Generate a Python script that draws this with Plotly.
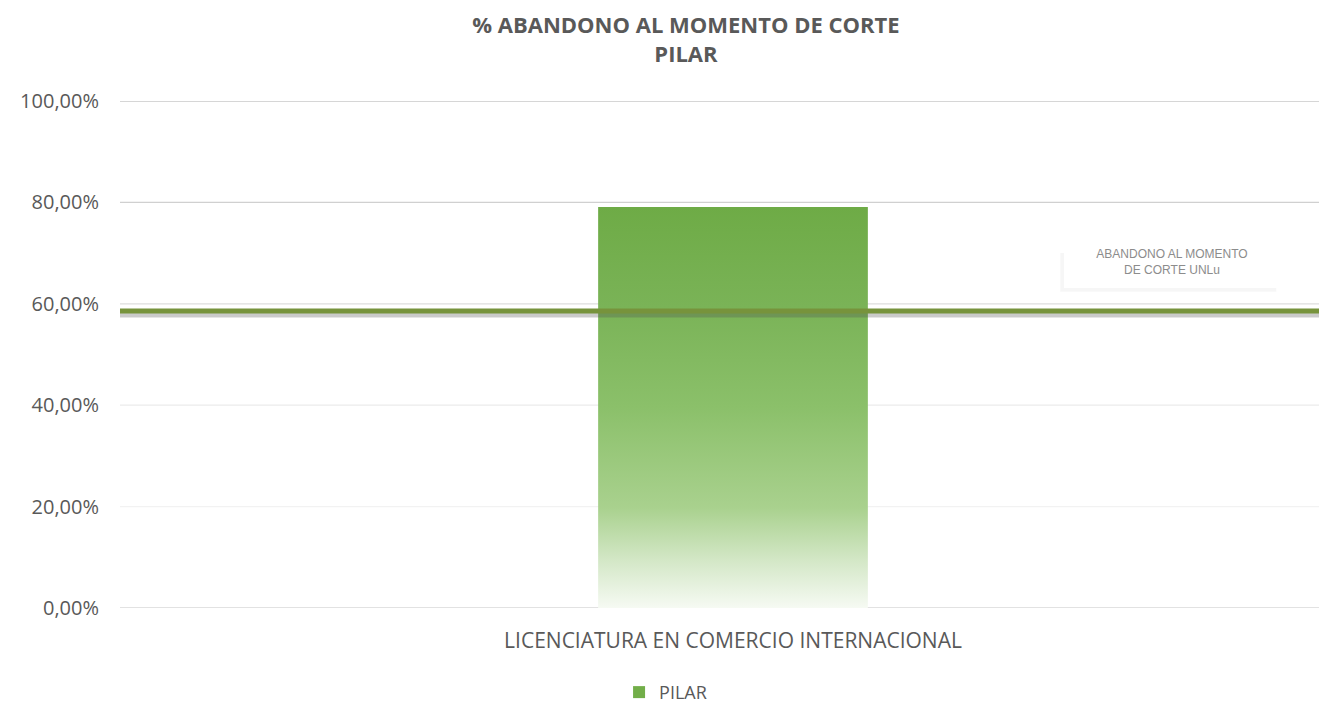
import plotly.graph_objects as go

# datos
categorias = ['LICENCIATURA EN COMERCIO INTERNACIONAL']
abandono_pilar = [0.791]
abandono_unlu = 0.586
ticks_y = [0, 0.2, 0.4, 0.6, 0.8, 1.0]
ticks_y_txt = ['0,00%', '20,00%', '40,00%', '60,00%', '80,00%', '100,00%']
grid_colores = ['#d9d9d9', '#f2f2f2', '#ebebeb', '#dedede', '#d0d0d0', '#c8c8c8']

ancho_barra = 0.22
x_rango = [-0.5, 0.4845]   # el area del grafico sigue mas alla del borde derecho
gris = '#595959'

fig = go.Figure()

# barra (leyenda), luego el degradado encima
fig.add_trace(go.Bar(
    x=list(range(len(categorias))), y=abandono_pilar, width=ancho_barra * 0.97,
    marker=dict(color='#72ae49', line=dict(width=0)),
    name='PILAR', hovertemplate='%{y:.2%}<extra>PILAR</extra>',
))

for i, v in enumerate(abandono_pilar):
    x0, x1 = i - ancho_barra / 2, i + ancho_barra / 2
    fig.add_trace(go.Scatter(
        x=[x0, x1, x1, x0, x0],
        y=[0, 0, v, v, 0],
        mode='lines',
        line=dict(width=0, color='#70ad47'),
        fill='toself',
        fillgradient=dict(
            type='vertical',
            start=0,
            stop=v,
            colorscale=[[0, '#f6faf3'], [0.12, '#d3e7c6'], [0.25, '#a9d18e'],
                        [0.5, '#8bc06a'], [0.75, '#7ab357'], [1, '#6eab46']],
        ),
        showlegend=False,
        hoverinfo='skip',
    ))

# sombra de la linea UNLu
fig.add_trace(go.Scatter(
    x=x_rango, y=[abandono_unlu - 0.007] * 2,
    mode='lines', line=dict(color='rgba(80,80,80,0.3)', width=6),
    showlegend=False, hoverinfo='skip'))
fig.add_trace(go.Scatter(
    x=x_rango, y=[abandono_unlu] * 2,
    mode='lines', line=dict(color='#77933c', width=5),
    name='ABANDONO AL MOMENTO DE CORTE UNLu', showlegend=False))

# lineas de grilla con tonos distintos
for t, c in zip(ticks_y, grid_colores):
    fig.add_shape(type='line', xref='paper', x0=0, x1=1, yref='y', y0=t, y1=t,
                  line=dict(color=c, width=1.3), layer='below')

# sombra suave de la etiqueta
fig.add_shape(type='rect', xref='paper', yref='paper',
              x0=0.779, x1=0.958, y0=0.624, y1=0.700,
              fillcolor='rgba(0,0,0,0.035)', line=dict(width=0), layer='above')

fig.add_annotation(
    x=0.8716, xref='paper', y=0.683, yref='y',
    xanchor='center', yanchor='middle',
    text='ABANDONO AL MOMENTO<br>DE CORTE UNLu',
    showarrow=False,
    font=dict(family='Liberation Sans, Arial', size=12, color='#8c8c8c'),
    bgcolor='white', borderwidth=0,
    width=214, height=50,
)

fig.update_layout(
    width=1319, height=698,
    paper_bgcolor='white', plot_bgcolor='white',
    margin=dict(l=112, r=0, t=93, b=98, autoexpand=False),
    title=dict(
        text='<b>% ABANDONO AL MOMENTO DE CORTE<br>PILAR</b>',
        x=0.514, xanchor='center', y=0.964, yanchor='top',
        font=dict(family='Open Sans', size=22, color=gris),
    ),
    xaxis=dict(
        range=x_rango,
        tickvals=list(range(len(categorias))), ticktext=categorias,
        showgrid=False, zeroline=False, showline=False,
        tickfont=dict(family='Open Sans', size=21, color=gris),
        ticks='', ticklabelstandoff=18, fixedrange=True,
    ),
    yaxis=dict(
        range=[0, 1.0],
        tickvals=ticks_y, ticktext=ticks_y_txt,
        showgrid=False, zeroline=False, showline=False,
        tickfont=dict(family='Open Sans', size=20, color=gris),
        ticks='', ticklabelstandoff=20,
    ),
    legend=dict(
        orientation='h', x=0.452, xanchor='center', y=-0.13, yanchor='top',
        font=dict(family='Open Sans', size=18, color=gris),
        itemwidth=30,
    ),
    showlegend=True,
    barmode='overlay',
)

fig.write_html('out.html')
